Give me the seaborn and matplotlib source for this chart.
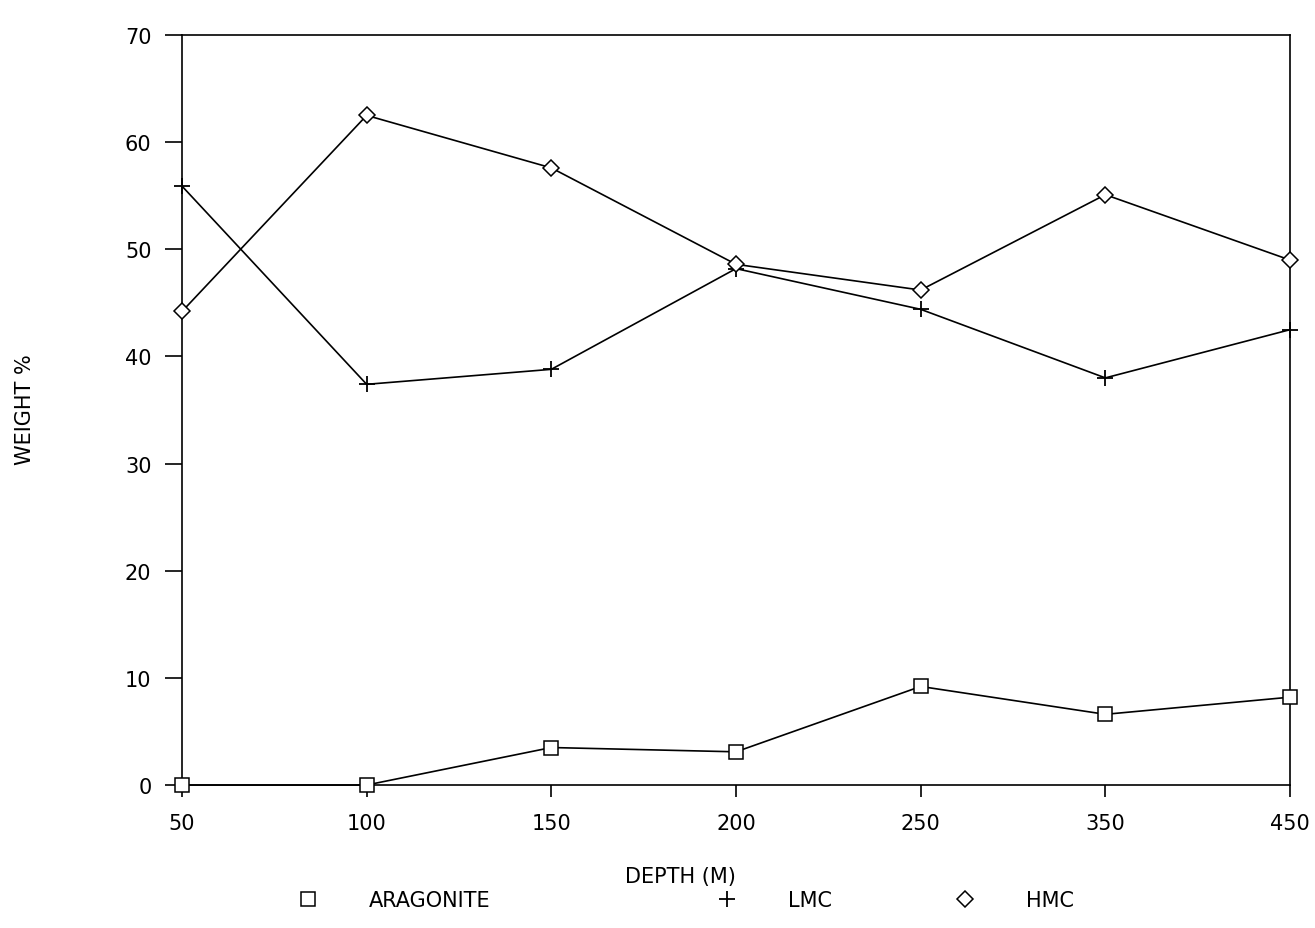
import numpy as np
import pandas as pd
import matplotlib
matplotlib.use("Agg")
import matplotlib.pyplot as plt
from matplotlib.lines import Line2D
import seaborn as sns

# Carbonate mineralogy (weight %) against sample depth
depths = ["50", "100", "150", "200", "250", "350", "450"]
aragonite = [0.0, 0.0, 3.5, 3.1, 9.2, 6.6, 8.2]
lmc = [55.9, 37.4, 38.8, 48.2, 44.4, 38.0, 42.5]
hmc = [44.2, 62.5, 57.6, 48.6, 46.2, 55.1, 49.0]

series_names = ["ARAGONITE", "LMC", "HMC"]

frames = []
for name, vals in zip(series_names, [aragonite, lmc, hmc]):
    frames.append(pd.DataFrame({"pos": np.arange(len(depths)),
                                "value": vals,
                                "mineral": name}))
df = pd.concat(frames, ignore_index=True)

sns.set_style("ticks")
plt.rcParams["font.family"] = ["DejaVu Sans"]
plt.rcParams["text.color"] = "black"
plt.rcParams["axes.labelcolor"] = "black"
plt.rcParams["xtick.color"] = "black"
plt.rcParams["ytick.color"] = "black"

FS = 15

fig = plt.figure(figsize=(13.15, 9.29), dpi=100)
ax = fig.add_axes([0.1384, 0.1539, 0.8426, 0.8073])

marker_style = {"ARAGONITE": dict(marker="s", ms=9.5, mew=1.1),
                "LMC": dict(marker="+", ms=12, mew=1.3),
                "HMC": dict(marker="D", ms=8.5, mew=1.1)}

for name in series_names:
    sub = df[df["mineral"] == name]
    sns.lineplot(data=sub, x="pos", y="value", ax=ax, color="black",
                 linewidth=1.2, legend=False, zorder=3)
    st = marker_style[name]
    ax.plot(sub["pos"], sub["value"], linestyle="none", marker=st["marker"],
            markersize=st["ms"], markerfacecolor="white",
            markeredgecolor="black", markeredgewidth=st["mew"],
            clip_on=False, zorder=4)

for ln in ax.lines:
    ln.set_clip_on(False)

ax.set_xlim(0, len(depths) - 1)
ax.set_ylim(0, 70)
ax.set_xticks(np.arange(len(depths)))
ax.set_xticklabels(depths)
ax.set_yticks(np.arange(0, 71, 10))
ax.set_xlabel("")
ax.set_ylabel("")

for sp in ax.spines.values():
    sp.set_linewidth(1.2)
    sp.set_color("black")

ax.tick_params(axis="y", direction="out", length=12, width=1.2, pad=10,
               labelsize=FS, colors="black")
ax.tick_params(axis="x", direction="out", length=8.5, width=1.2, pad=12,
               labelsize=FS, colors="black")

fig.text(25 / 1315, 1 - 410 / 929, "WEIGHT %", rotation=90,
         ha="center", va="center", fontsize=FS, color="black")
fig.text(680 / 1315, 1 - 877 / 929, "DEPTH (M)",
         ha="center", va="center", fontsize=FS, color="black")

# Legend row below the axis title
legend_spots = {"ARAGONITE": 298, "LMC": 717, "HMC": 955}
for name in series_names:
    st = marker_style[name]
    h = Line2D([], [], linestyle="none", marker=st["marker"],
               markersize=st["ms"], markerfacecolor="white",
               markeredgecolor="black", markeredgewidth=st["mew"], label=name)
    leg = fig.legend(handles=[h], loc="center left",
                     bbox_to_anchor=(legend_spots[name] / 1315, 1 - 901 / 929),
                     frameon=False, fontsize=FS, handlelength=1.0,
                     handletextpad=2.4, borderpad=0, borderaxespad=0)
    for t in leg.get_texts():
        t.set_color("black")

fig.savefig("out.png", dpi=100, facecolor="white")
